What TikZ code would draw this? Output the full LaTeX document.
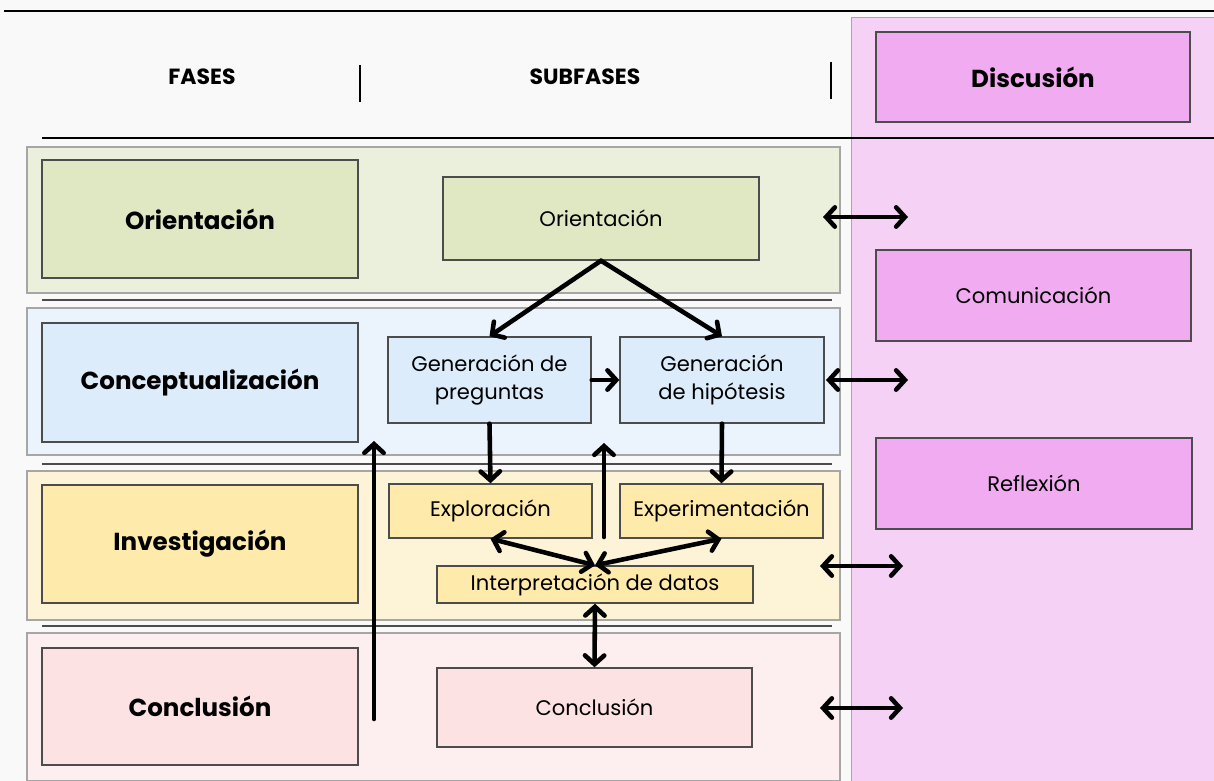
\documentclass[tikz,border=0pt]{standalone}
\usepackage{fontspec}
\setmainfont{Poppins}
\usetikzlibrary{arrows.meta}
\definecolor{pagebg}{HTML}{F9F9F9}
\definecolor{pinkcol}{HTML}{F5D2F5}
\definecolor{pinkbox}{HTML}{F0ABF1}
\definecolor{greenband}{HTML}{EBF0DD}
\definecolor{greenbox}{HTML}{DFE8C3}
\definecolor{blueband}{HTML}{EBF3FC}
\definecolor{bluebox}{HTML}{DCECFB}
\definecolor{yellowband}{HTML}{FDF3D6}
\definecolor{yellowbox}{HTML}{FEEBAB}
\definecolor{redband}{HTML}{FDEEEF}
\definecolor{redbox}{HTML}{FDE2E4}
\tikzset{
  wh/.style 2 args={minimum width=#1*0.02cm, minimum height=#2*0.02cm},
  band/.style={draw=black!35, line width=0.8pt},
  phasebox/.style={draw=black!70, line width=0.8pt, inner sep=0pt, font=\fontsize{14}{16}\selectfont\bfseries},
  subbox/.style={draw=black!70, line width=0.8pt, inner sep=0pt, align=center, font=\fontsize{12}{15.5}\selectfont},
  headtxt/.style={font=\fontsize{12.5}{14}\selectfont\bfseries},
  rule/.style={line width=1.3pt, black},
  thinrule/.style={line width=0.9pt, black!70},
  tip/.style={Straight Barb[length=5pt, width=11pt, line cap=round]},
  arr/.style={line width=2.6pt, line cap=round, -{Straight Barb[length=5pt, width=11pt, line cap=round]}},
  darr/.style={line width=2.6pt, line cap=round, {Straight Barb[length=5pt, width=11pt, line cap=round]}-{Straight Barb[length=5pt, width=11pt, line cap=round]}}
}
\begin{document}
\begin{tikzpicture}[x=0.02cm, y=-0.02cm]
  % canvas
  \fill[pagebg] (0,0) rectangle (1214,781);
  \useasboundingbox (0,0) rectangle (1214,781);

  % discussion column on the right
  \path[fill=pinkcol, draw=black!35, line width=0.8pt] (852,781) -- (852,18) -- (1216,18);
  \fill[pinkcol] (852.4,18.4) rectangle (1214,781);

  % phase bands
  \path[band, fill=greenband]  (27,147) rectangle (840,293);
  \path[band, fill=blueband]   (27,308) rectangle (840,455);
  \path[band, fill=yellowband] (27,471) rectangle (840,620);
  \path[band, fill=redband]    (27,633) rectangle (840,781);

  % band separators
  \draw[thinrule] (42,300) -- (832,300);
  \draw[thinrule] (42,464) -- (832,464);
  \draw[thinrule] (42,626) -- (832,626);

  % header rules
  \draw[rule] (4,11) -- (1214,11);
  \draw[rule] (42,138) -- (1214,138);
  \draw[line width=1.1pt] (360,65) -- (360,102);
  \draw[line width=1.1pt] (831,62) -- (831,99);

  % header titles
  \node[headtxt] (hfases) at (202,77) {FASES};
  \node[headtxt] (hsub) at (585,77) {SUBFASES};

  % discussion boxes
  \node[phasebox, fill=pinkbox, wh={314}{90}] (disc) at (1033,77) {Discusión};
  \node[subbox, fill=pinkbox, wh={315}{91}] (comu) at (1033.5,295.5) {Comunicación};
  \node[subbox, fill=pinkbox, wh={316}{91}] (refl) at (1034,483.5) {Reflexión};

  % phases
  \node[phasebox, fill=greenbox,  wh={316}{118}] (pori) at (200,219)   {Orientación};
  \node[phasebox, fill=bluebox,   wh={316}{119}] (pcon) at (200,382.5) {Conceptualización};
  \node[phasebox, fill=yellowbox, wh={316}{118}] (pinv) at (200,544)   {Investigación};
  \node[phasebox, fill=redbox,    wh={316}{117}] (pclu) at (200,706.5) {Conclusión};

  % subphases
  \node[subbox, fill=greenbox,  wh={316}{83}] (sori) at (601,218.5) {Orientación};
  \node[subbox, fill=bluebox,   wh={203}{86}] (sgp)  at (489.5,380) {Generación de\\preguntas};
  \node[subbox, fill=bluebox,   wh={204}{86}] (sgh)  at (722,380)   {Generación\\de hipótesis};
  \node[subbox, fill=yellowbox, wh={203}{54}] (sexp) at (490.5,511) {Exploración};
  \node[subbox, fill=yellowbox, wh={203}{54}] (sexr) at (721.5,511) {Experimentación};
  \node[subbox, fill=yellowbox, wh={316}{37}] (sint) at (595,584.5) {Interpretación de datos};
  \node[subbox, fill=redbox,    wh={315}{79}] (sclu) at (594.5,707.5) {Conclusión};

  % free ends of connectors
  \coordinate (upA0) at (604,537);
  \coordinate (upA1) at (604,443);
  \coordinate (upB0) at (374,719);
  \coordinate (upB1) at (374,441);
  \coordinate (r1a) at (823,217);  \coordinate (r1b) at (908,217);
  \coordinate (r2a) at (826,380);  \coordinate (r2b) at (908,380);
  \coordinate (r3a) at (820,566);  \coordinate (r3b) at (903,566);
  \coordinate (r4a) at (820,708);  \coordinate (r4b) at (903,708);

  % flow connectors
  \draw[arr] (sori.south) -- (sgp.north);
  \draw[arr] (sori.south) -- (sgh.north);
  \draw[arr] (sgp.east) -- (sgh.west);
  \draw[arr] (sgp.south) -- (sexp.north);
  \draw[arr] (sgh.south) -- (sexr.north);
  \draw[arr] (upA0) -- (upA1);
  \draw[arr] (upB0) -- (upB1);
  \draw[darr] (sexp.south) -- (sint.north);
  \draw[darr] (sexr.south) -- (sint.north);
  \draw[darr] (sint.south) -- (sclu.north);

  % links to the discussion column
  \draw[darr] (r1a) -- (r1b);
  \draw[darr] (r2a) -- (r2b);
  \draw[darr] (r3a) -- (r3b);
  \draw[darr] (r4a) -- (r4b);
\end{tikzpicture}
\end{document}
